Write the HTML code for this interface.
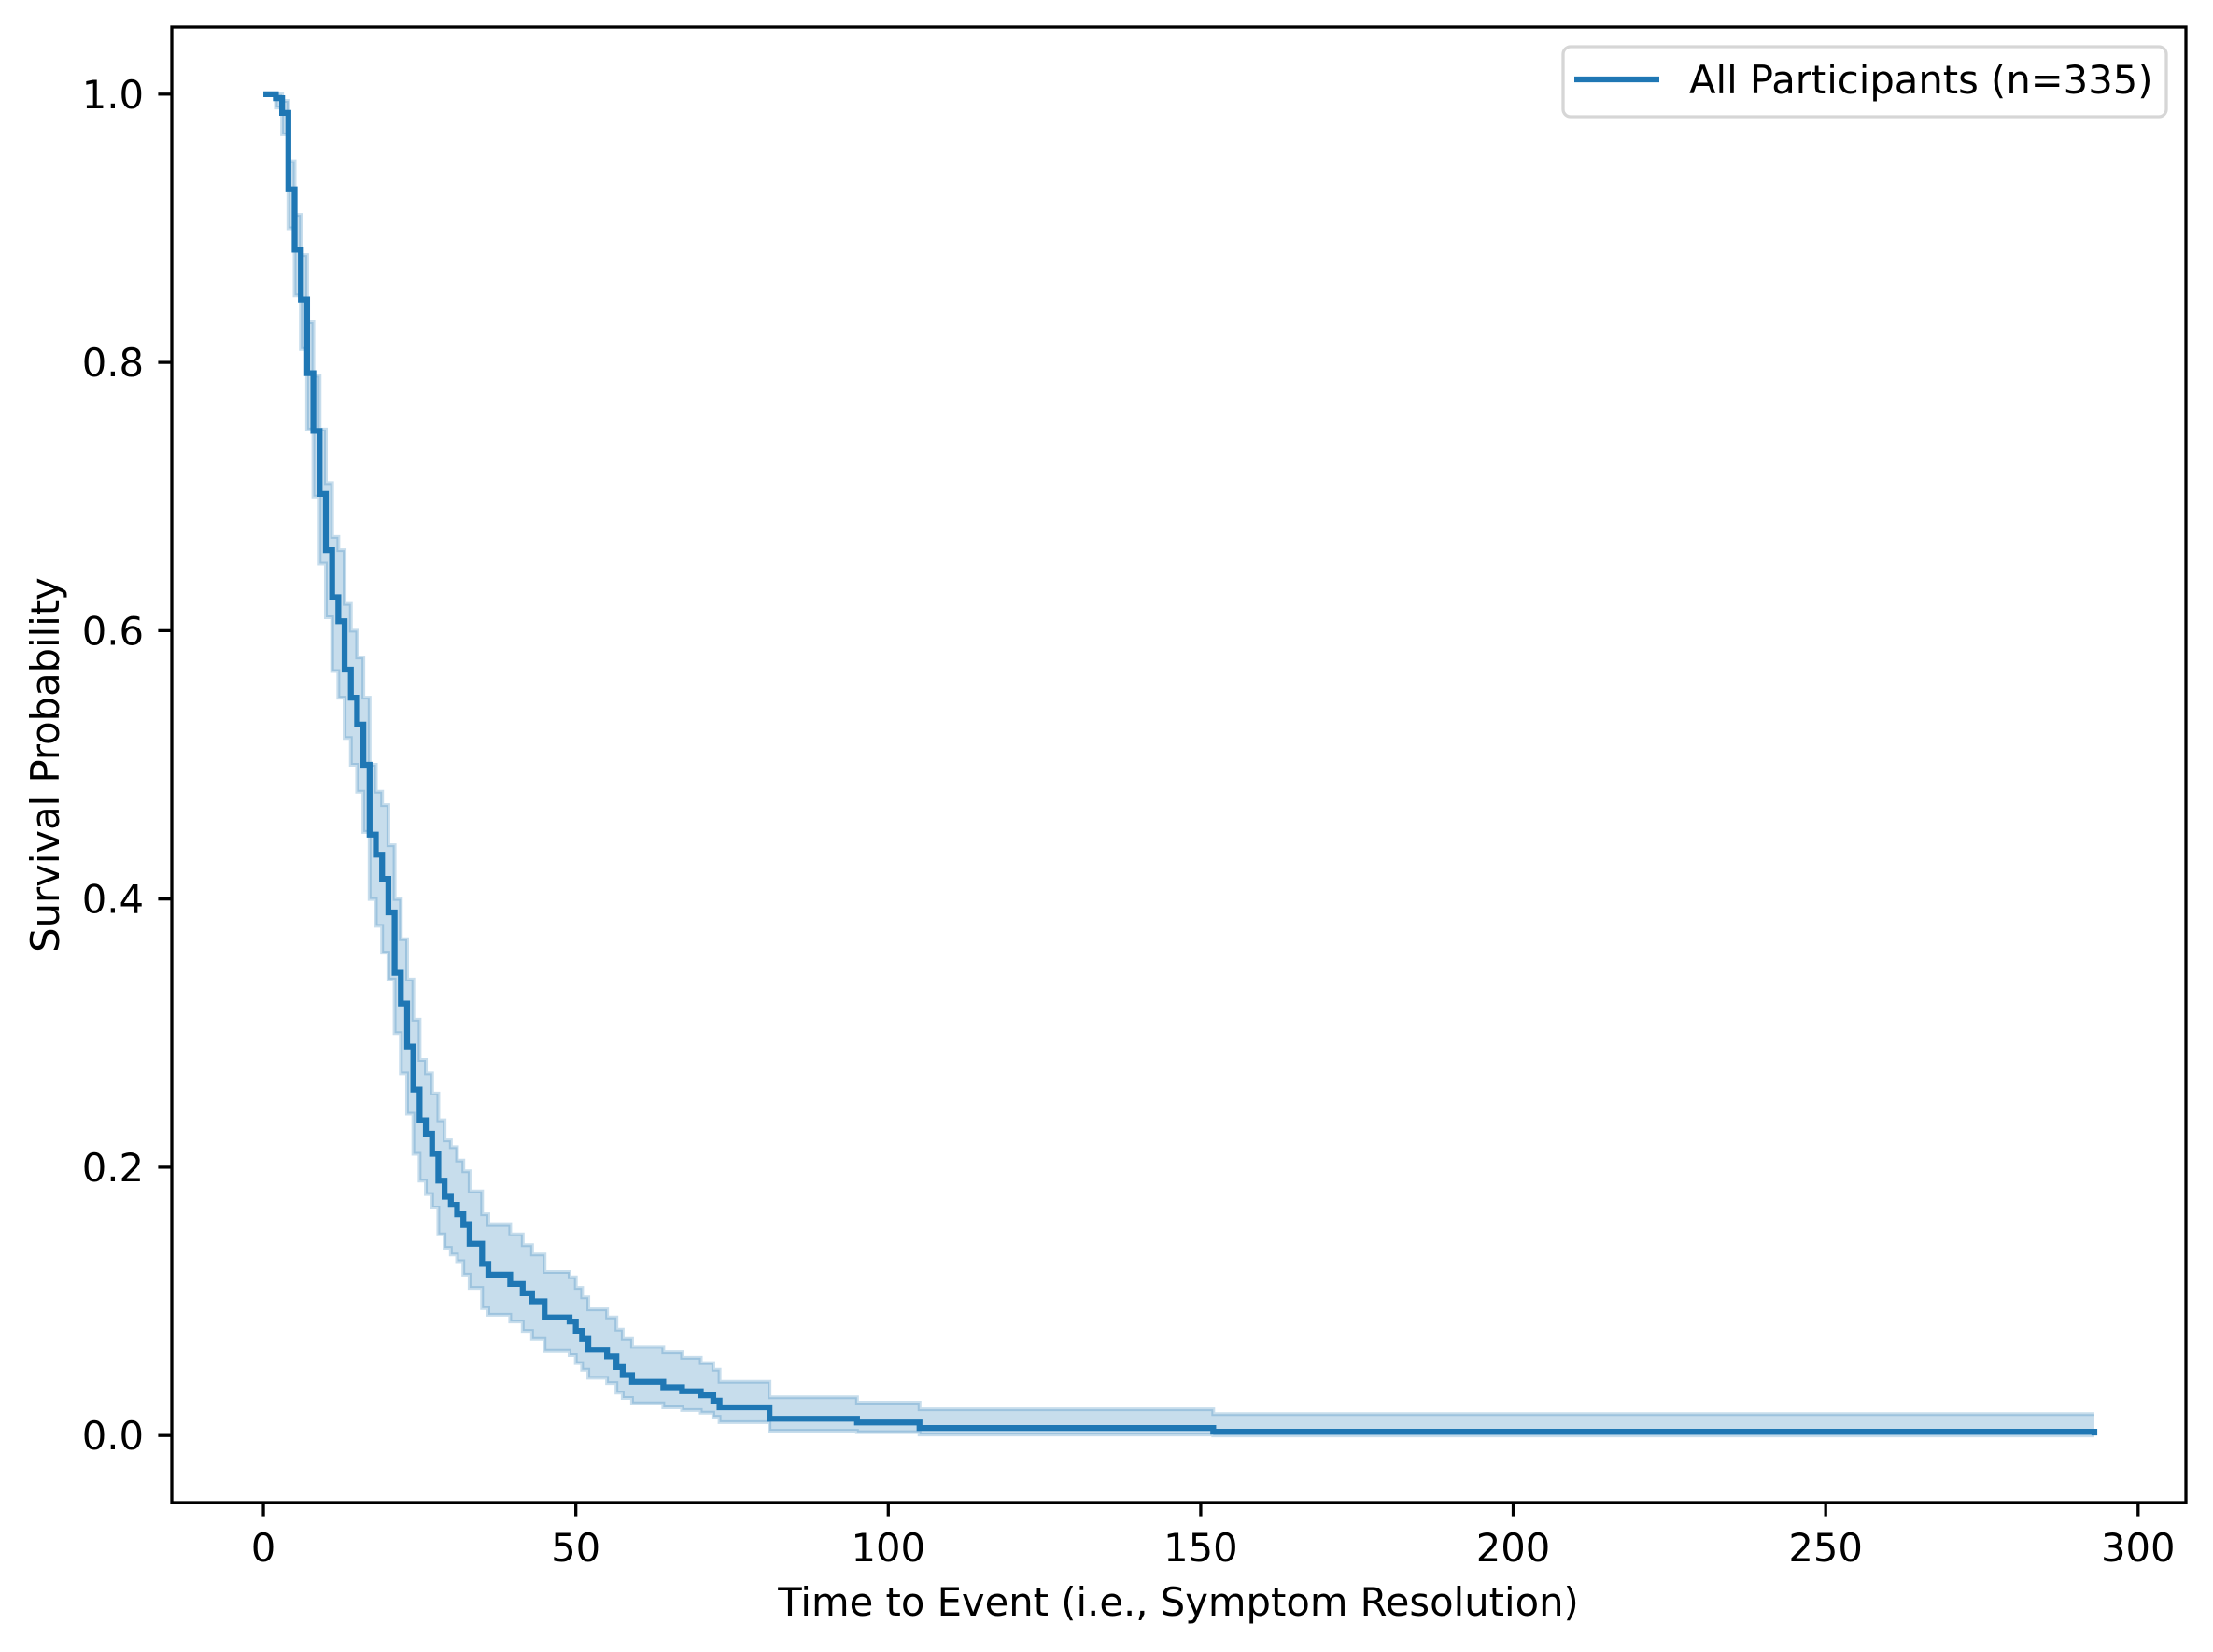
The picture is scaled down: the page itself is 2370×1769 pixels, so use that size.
<!DOCTYPE html>
<html><head><meta charset="utf-8"><style>
html,body{margin:0;padding:0;background:#fff;}
svg{display:block;font-family:"DejaVu Sans","Liberation Sans",sans-serif;}
</style></head><body>
<svg id="chart" width="2370" height="1769" viewBox="0 0 2370 1769" xmlns="http://www.w3.org/2000/svg">
<rect width="2370" height="1769" fill="#fff"/>
<g id="band"></g>
<g id="line"></g>
<g id="axes"></g>
<g>
<rect x="1674" y="50" width="646" height="75" rx="8" fill="#fff" fill-opacity="0.8" stroke="#d6d6d6" stroke-width="3.3"/>
<line x1="1686" y1="85" x2="1777" y2="85" stroke="#1f77b4" stroke-width="6.25"/>
<text x="1809" y="100" font-size="41.7" fill="#000">All Participants (n=335)</text>
</g>
<text x="1262" y="1730" font-size="41.7" text-anchor="middle">Time to Event (i.e., Symptom Resolution)</text>
<text transform="translate(63,819) rotate(-90)" font-size="41.7" text-anchor="middle">Survival Probability</text>
</svg>
<script>
const times = [0,2,3,4,5,6,7,8,9,10,11,12,13,14,15,16,17,18,19,20,21,22,23,24,25,26,27,28,29,30,31,32,33,35,36,39.5,41.5,43,45,49,50,51,52,55,56.5,57.5,59,64,67,70,72,73,81,95,105,152];
const survival = [1.0,0.997,0.986,0.929,0.884,0.847,0.792,0.749,0.702,0.660,0.625,0.607,0.571,0.550,0.530,0.500,0.448,0.433,0.415,0.390,0.345,0.322,0.290,0.258,0.235,0.225,0.210,0.190,0.178,0.172,0.165,0.157,0.143,0.128,0.120,0.113,0.106,0.100,0.088,0.085,0.078,0.072,0.064,0.059,0.051,0.045,0.040,0.036,0.033,0.030,0.026,0.021,0.0125,0.0097,0.0056,0.0028];
const lowerCI = [1.0,0.99,0.97,0.90,0.85,0.81,0.75,0.70,0.65,0.61,0.57,0.55,0.52,0.50,0.48,0.45,0.40,0.38,0.36,0.34,0.30,0.27,0.24,0.21,0.19,0.18,0.17,0.15,0.14,0.135,0.13,0.12,0.11,0.095,0.09,0.085,0.078,0.072,0.063,0.060,0.054,0.049,0.043,0.039,0.032,0.028,0.024,0.021,0.019,0.017,0.014,0.010,0.0035,0.0025,0.0007,0.0];
const upperCI = [1.0,1.0,0.995,0.95,0.91,0.88,0.83,0.79,0.75,0.71,0.67,0.66,0.62,0.60,0.58,0.55,0.50,0.48,0.47,0.44,0.40,0.37,0.34,0.31,0.28,0.27,0.255,0.235,0.22,0.215,0.205,0.197,0.182,0.165,0.157,0.15,0.142,0.135,0.122,0.118,0.110,0.103,0.094,0.088,0.079,0.072,0.066,0.062,0.058,0.054,0.049,0.040,0.0285,0.0245,0.0195,0.016];
const endTime = 293;
const endSurvival = 0.0;
const xTicks = [0,50,100,150,200,250,300];
const yTicks = [0.0,0.2,0.4,0.6,0.8,1.0];
const yTickLabels = ["0.0","0.2","0.4","0.6","0.8","1.0"];

const L=184,R=2341,T=29,B=1609;
const xmin=-14.65,xmax=307.65,ymin=-0.05,ymax=1.05;
const X=t=>L+(t-xmin)/(xmax-xmin)*(R-L);
const Y=v=>B-(v-ymin)/(ymax-ymin)*(B-T);
const NS='http://www.w3.org/2000/svg';
function mk(tag,parent){const e=document.createElementNS(NS,tag);parent.appendChild(e);return e;}

function stepPath(vals){
  let d='M'+X(times[0])+','+Y(vals[0]);
  for(let i=1;i<times.length;i++){d+=' H'+X(times[i])+' V'+Y(vals[i]);}
  d+=' H'+X(endTime);
  return d;
}
const band=document.getElementById('band');
let up='M'+X(times[0])+','+Y(upperCI[0]);
for(let i=1;i<times.length;i++){up+=' H'+X(times[i])+' V'+Y(upperCI[i]);}
up+=' H'+X(endTime)+' V'+Y(lowerCI[lowerCI.length-1]);
for(let i=times.length-1;i>=1;i--){up+=' H'+X(times[i])+' V'+Y(lowerCI[i-1]);}
up+=' H'+X(times[0])+' Z';
const bf=mk('path',band);


bf.setAttribute('d',up);bf.setAttribute('fill','#1f77b4');bf.setAttribute('fill-opacity','0.25');
const bu=mk('path',band);


bu.setAttribute('d',stepPath(upperCI));bu.setAttribute('fill','none');bu.setAttribute('stroke','#1f77b4');bu.setAttribute('stroke-opacity','0.25');bu.setAttribute('stroke-width','4');
const bl=mk('path',band);


bl.setAttribute('d',stepPath(lowerCI));bl.setAttribute('fill','none');bl.setAttribute('stroke','#1f77b4');bl.setAttribute('stroke-opacity','0.25');bl.setAttribute('stroke-width','4');
const lp=mk('path',document.getElementById('line'));


lp.setAttribute('d',stepPath(survival)+' V'+Y(endSurvival));
lp.setAttribute('fill','none');lp.setAttribute('stroke','#1f77b4');lp.setAttribute('stroke-width','6.25');lp.setAttribute('stroke-linejoin','miter');
const ax=document.getElementById('axes');
const fr=mk('rect',ax);


fr.setAttribute('x',L);fr.setAttribute('y',T);fr.setAttribute('width',R-L);fr.setAttribute('height',B-T);
fr.setAttribute('fill','none');fr.setAttribute('stroke','#000');fr.setAttribute('stroke-width','3.3');
xTicks.forEach(t=>{
  const l=mk('line',ax);
  
  
  l.setAttribute('x1',X(t));l.setAttribute('x2',X(t));l.setAttribute('y1',B);l.setAttribute('y2',B+14.6);l.setAttribute('stroke','#000');l.setAttribute('stroke-width','3.3');
  const tx=mk('text',ax);
  
  
  tx.setAttribute('x',X(t));tx.setAttribute('y',1672);tx.setAttribute('font-size','41.7');tx.setAttribute('text-anchor','middle');
  tx.textContent=String(t);
});
yTicks.forEach((v,i)=>{
  const l=mk('line',ax);
  
  
  l.setAttribute('x1',L-14.6);l.setAttribute('x2',L);l.setAttribute('y1',Y(v));l.setAttribute('y2',Y(v));l.setAttribute('stroke','#000');l.setAttribute('stroke-width','3.3');
  const tx=mk('text',ax);
  
  
  tx.setAttribute('x',154);tx.setAttribute('y',Y(v)+15);tx.setAttribute('font-size','41.7');tx.setAttribute('text-anchor','end');
  tx.textContent=yTickLabels[i];
});
</script>
</body></html>
